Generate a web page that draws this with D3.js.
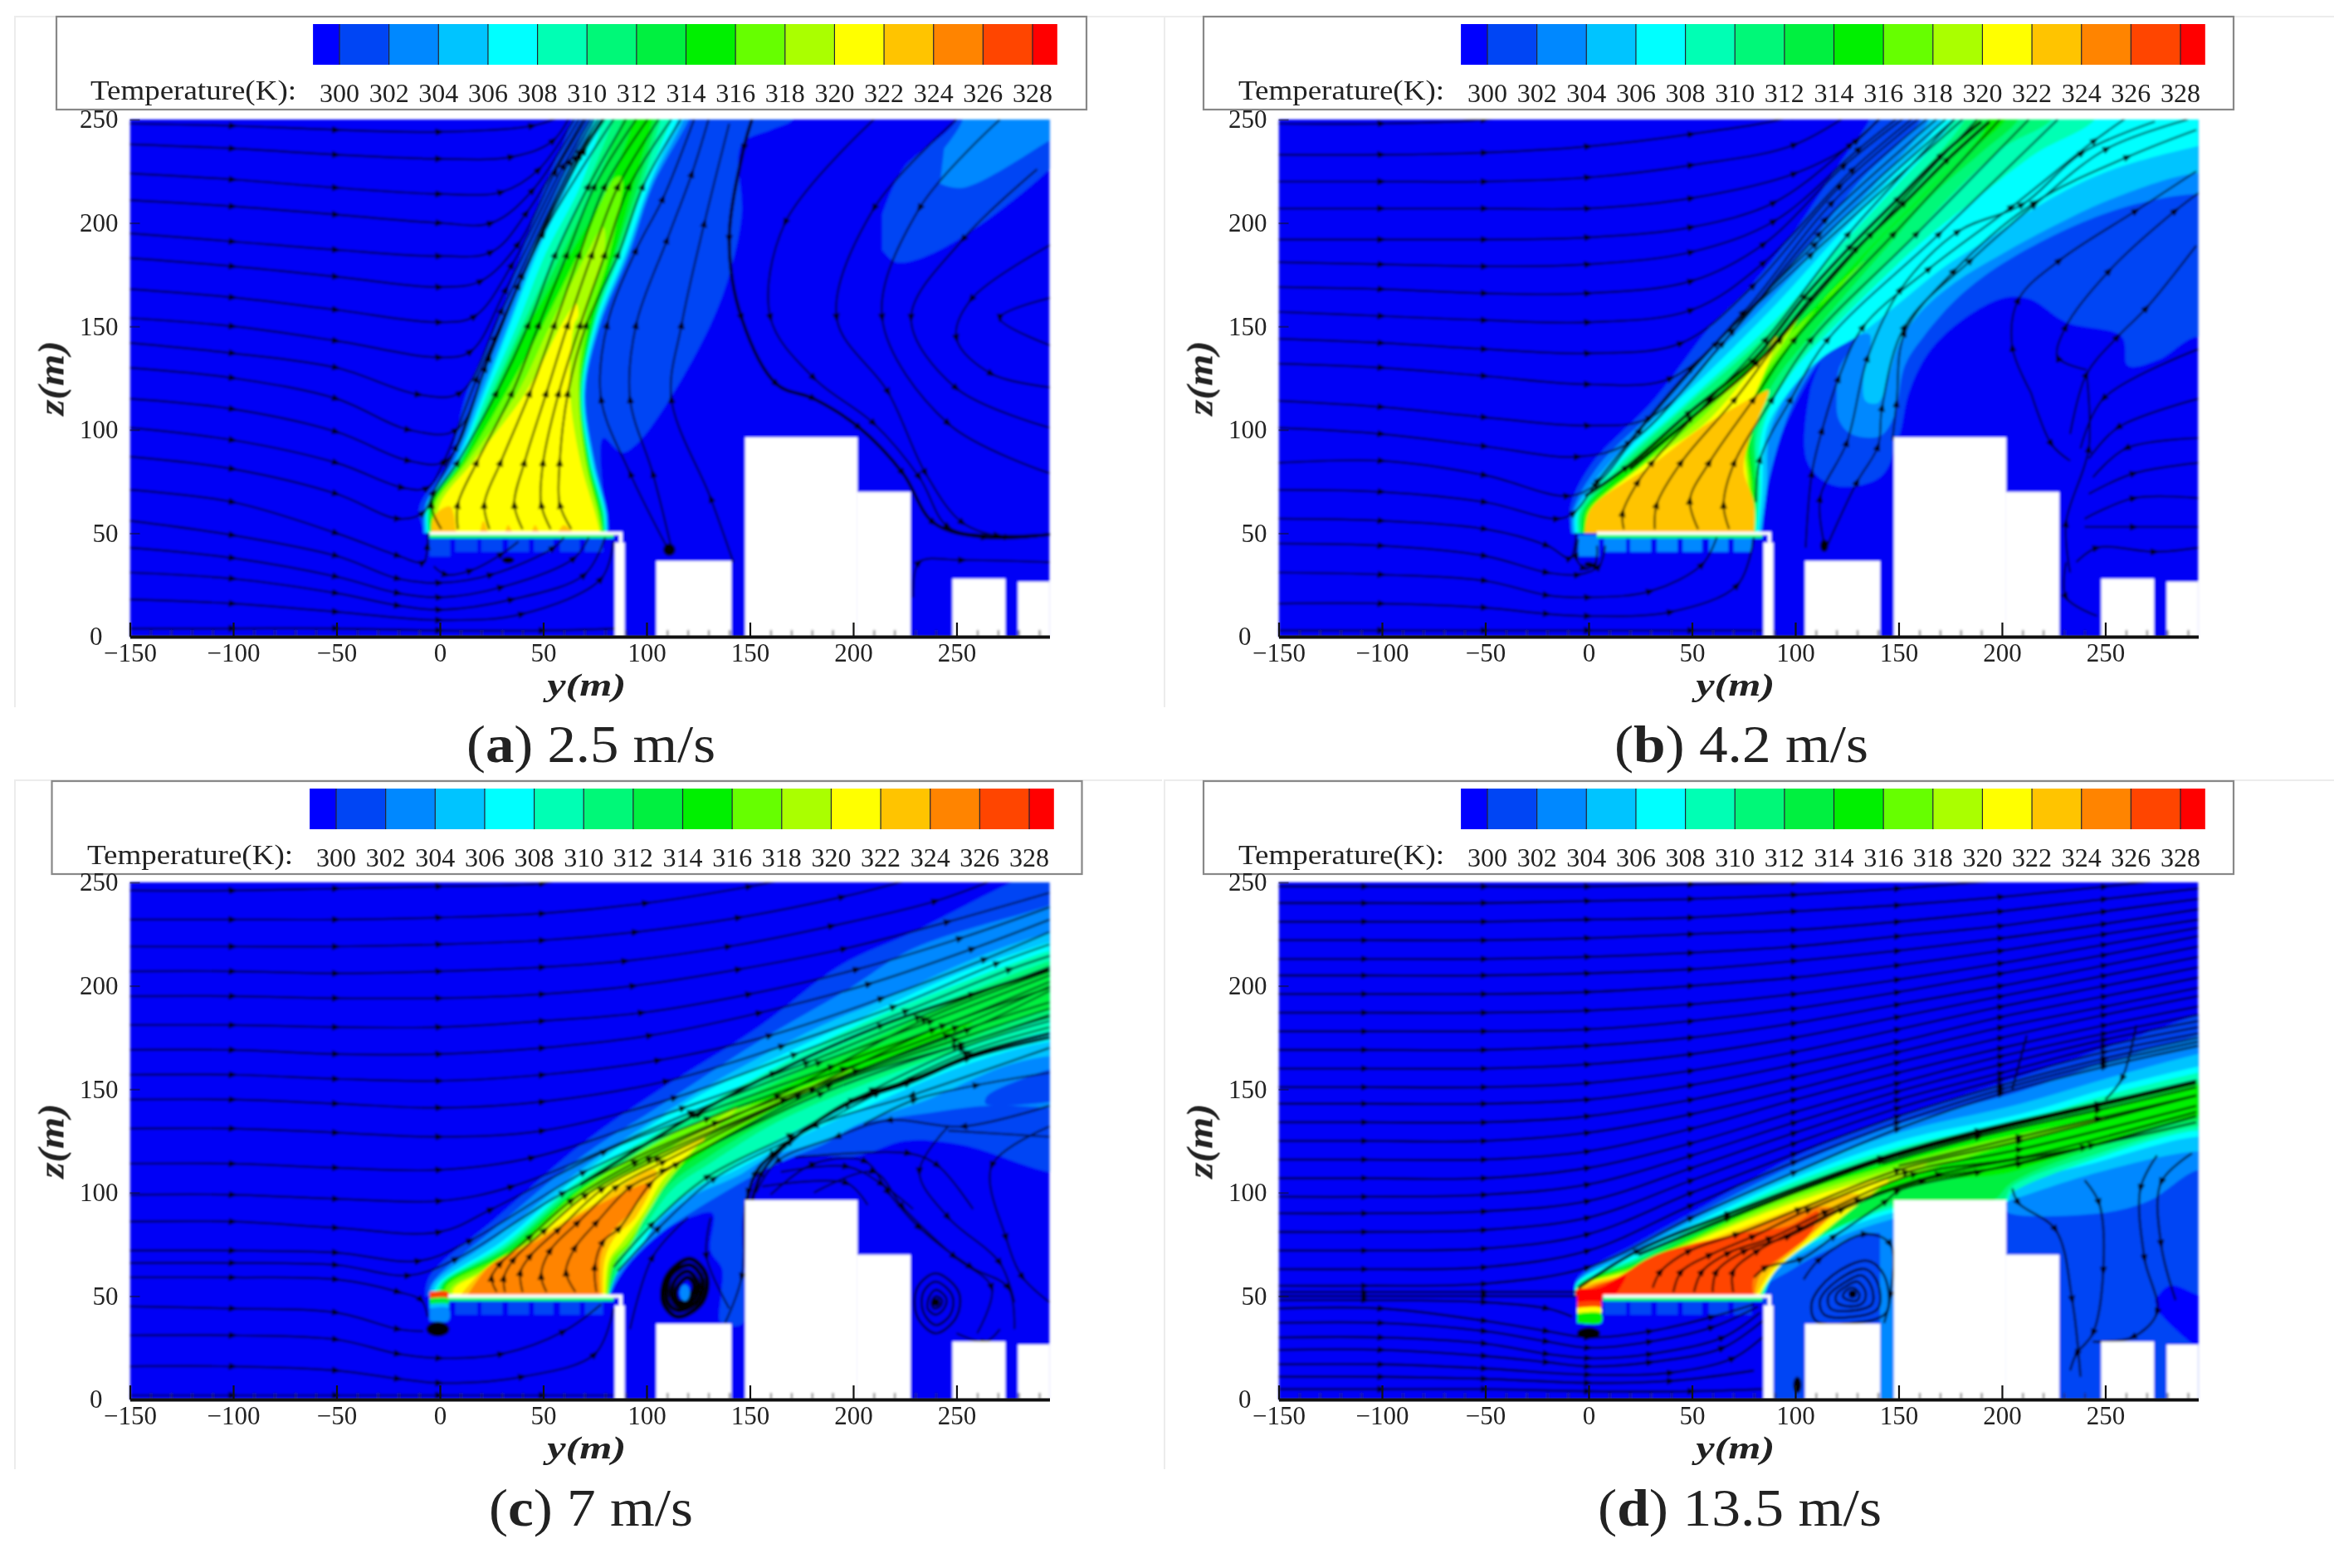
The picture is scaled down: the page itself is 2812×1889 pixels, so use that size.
<!DOCTYPE html>
<html>
<head>
<meta charset="utf-8">
<script src="https://cdn.jsdelivr.net/npm/d3@7"></script>
<style>
  body { margin: 0; background: #fff; }
  text { font-family: "Liberation Serif", serif; fill: #222; }
</style>
</head>
<body>
<script>
// colour legend
const tempTicks = [300, 302, 304, 306, 308, 310, 312, 314, 316, 318, 320, 322, 324, 326, 328];
const tempEdges = [298.93, 300, 302, 304, 306, 308, 310, 312, 314, 316, 318, 320, 322, 324, 326, 328, 329];
const bandColors = ['#0000ff', '#0044f4', '#0088ff', '#00c4ff', '#00ffff', '#00ffb4', '#00f878', '#00f040', '#00f000',
  '#66ff00', '#aaff00', '#ffff00', '#ffc400', '#ff8400', '#ff4400', '#ff0000'];

// axes
const yTicks = [-150, -100, -50, 0, 50, 100, 150, 200, 250];
const yMinorTicks = [-140, -130, -120, -110, -90, -80, -70, -60, -40, -30, -20, -10, 10, 20, 30, 40, 60, 70, 80, 90,
  110, 120, 130, 140, 160, 170, 180, 190, 210, 220, 230, 240, 260, 270, 280, 290];
const zTicks = [0, 50, 100, 150, 200, 250];

// buildings and cooling tower, [y0, z0, y1, z1] in metres
const buildings = [[84.6, 0, 89.4, 45.5], [104.7, 0, 141, 36.6], [147.7, 0, 202, 96.4], [202, 0, 227.7, 70],
  [248, 0, 273.6, 28], [279.7, 0, 300, 26.5]];
const towerCover = [-10, 0, 84.6, 50];
const toothSpans = [[-5, 5, 38.8], [7.4, 18.1, 41], [20.1, 30.2, 41], [33, 43, 41], [45.5, 54.9, 41], [58.2, 67.6, 41], [70.2, 78.9, 41]];

// ---- panel a
const contoursA = [
  {t: 300, pts: [[-6, 48], [-10, 62], [4, 84.5], [13, 118], [27.5, 151], [39.5, 185], [51, 218], [64, 250], [66, 262], [175, 262], [171, 250], [160, 245], [146, 238], [146, 204], [140, 175], [131, 151], [110, 113], [95, 93], [88, 89], [79, 96], [80, 60], [82, 48]]},
  {t: 300, pts: [[214, 187], [221, 181], [242, 187], [295, 226], [310, 245], [310, 262], [250, 262], [250, 250], [224, 226], [214, 204]]},
  {t: 302, pts: [[242, 219], [253, 217], [295, 240], [310, 250], [310, 262], [253, 262], [253, 250], [244, 236]]},
  {t: 302, pts: [[-8, 48], [-7, 64], [6, 84.5], [18, 118], [31, 151], [43.6, 185], [57.6, 218], [72, 250], [76, 262], [125, 262], [120.5, 250], [103, 218], [91.7, 185], [77.7, 151], [70.5, 118], [75, 84.5], [81, 60], [81.5, 48]]},
  {t: 304, pts: [[-7, 48], [-6.5, 64], [7, 84.5], [20, 118], [33, 151], [45.5, 185], [60, 218], [74, 250], [78, 262], [122, 262], [118, 250], [102, 218], [90.7, 185], [77, 151], [70, 118], [74.5, 84.5], [80.5, 60], [81, 48]]},
  {t: 306, pts: [[-6, 48], [-6, 64], [8, 84.5], [21.5, 118], [34, 151], [47, 185], [62, 218], [75, 250], [79, 262], [119, 262], [115, 250], [101, 218], [89.7, 185], [76, 151], [69.5, 118], [73.7, 84.5], [80, 60], [80.5, 48]]},
  {t: 308, pts: [[-5.5, 48], [-5.5, 64], [9, 84.5], [23, 118], [37.5, 151], [51, 185], [68, 218], [79, 250], [83, 262], [116, 262], [112, 250], [99, 218], [87.7, 185], [75, 151], [69, 118], [73, 84.5], [79.5, 60], [80, 48]]},
  {t: 310, pts: [[-5, 48], [-5, 64], [9.5, 84.5], [25, 118], [40, 151], [56, 185], [71, 218], [84, 250], [88, 262], [111, 262], [107, 250], [97.8, 218], [86, 185], [74.5, 151], [68.5, 118], [72.5, 84.5], [79, 60], [80, 48]]},
  {t: 312, pts: [[-4.5, 48], [-4.5, 64], [10, 84.5], [26, 118], [41.5, 151], [59, 185], [75, 218], [88.4, 250], [92, 262], [109, 262], [105, 250], [96, 218], [85, 185], [74, 151], [68, 118], [72, 84.5], [78.5, 60], [79.5, 48]]},
  {t: 314, pts: [[-4, 48], [-4, 64], [10.5, 84.5], [27, 118], [43, 151], [63, 185], [81.7, 218], [93.8, 250], [97, 262], [106, 262], [103, 250], [93.8, 218], [84.4, 185], [73.7, 151], [68, 118], [72, 84.5], [78, 60], [79, 48]]},
  {t: 316, pts: [[-3.5, 48], [-3, 64], [12, 84.5], [32, 118], [50, 151], [67, 185], [85, 222], [88, 222], [82, 185], [72, 151], [67.5, 118], [71, 84.5], [77, 60], [79, 48]]},
  {t: 318, pts: [[-3, 48], [-2, 64], [13.4, 84.5], [37.5, 118], [53.6, 151], [71, 185], [79, 198], [80, 190], [69.7, 151], [67, 118], [70.5, 84.5], [76.5, 60], [78.5, 48]]},
  {t: 320, pts: [[-2, 48], [0, 64], [16, 84.5], [41.5, 118], [59, 151], [66, 161], [67, 155], [65, 151], [63, 118], [68, 84.5], [75, 60], [78, 48]]},
  {t: 322, pts: [[-4, 48], [-3, 58], [5, 63], [8, 48]]},
  {t: 322, pts: [[19, 48], [21, 56], [24, 48]]},
  {t: 322, pts: [[31, 48], [33, 54], [36, 48]]},
  {t: 322, pts: [[44, 48], [46, 54], [49, 48]]},
  {t: 322, pts: [[56, 48], [60, 54], [66, 48]]}
];
const linesA = [
  [[-150, 248], [-100, 247], [-50, 245], [0, 244], [45, 247], [60, 252]],
  [[-150, 238], [-100, 236], [-50, 233], [0, 231], [35, 232], [55, 240], [68, 262]],
  [[-150, 224], [-100, 221], [-50, 217], [0, 214], [30, 215], [48, 226], [72, 262]],
  [[-150, 211], [-100, 208], [-50, 204], [0, 200], [25, 200], [45, 216], [74, 262]],
  [[-150, 195], [-100, 191], [-50, 187], [0, 184], [25, 186], [42, 205], [76, 262]],
  [[-150, 183], [-100, 179], [-50, 174], [0, 169], [20, 172], [38, 190], [56, 225], [78, 262]],
  [[-150, 168], [-100, 164], [-50, 158], [0, 152], [17, 155], [35, 180], [60, 228], [80, 262]],
  [[-150, 154], [-100, 150], [-50, 143], [0, 135], [15, 138], [32, 168], [63, 230], [82, 262]],
  [[-150, 142], [-100, 137], [-50, 130], [-10, 117], [10, 118], [30, 158], [66, 232], [84, 262]],
  [[-150, 130], [-100, 125], [-50, 115], [-15, 100], [8, 100], [27, 145], [68, 233], [86, 262]],
  [[-150, 115], [-100, 110], [-50, 99], [-15, 85], [3, 85], [22, 130], [40, 175], [70, 235], [88, 262]],
  [[-150, 101], [-100, 95], [-50, 84], [-18, 72], [-6, 72], [2, 85], [18, 125], [38, 170], [68, 235], [90, 262]],
  [[-150, 87], [-100, 81], [-50, 69], [-20, 57], [-8, 60], [-3, 70], [8, 92], [24, 135], [50, 195], [92, 262]],
  [[-150, 71], [-100, 65], [-50, 50], [-20, 39], [-8, 36], [-6, 44], [-6, 50]],
  [[-150, 56], [-100, 49], [-50, 39], [-20, 28], [0, 26], [25, 30], [55, 43], [60, 48]],
  [[-150, 43], [-100, 38], [-50, 29], [-20, 21], [0, 19], [30, 24], [65, 38], [72, 48]],
  [[-150, 31], [-100, 28], [-50, 21], [-20, 15], [0, 13], [35, 18], [70, 30], [80, 48]],
  [[-150, 18], [-100, 16], [-50, 12], [0, 8], [40, 11], [78, 28], [84, 46]],
  [[-150, 4], [-100, 4], [-50, 4], [0, 3], [50, 3], [86, 4]],
  [[-3, 34], [3, 30], [15, 32], [30, 40], [38, 46]],
  [[0.7, 52], [-4, 64], [8.7, 84.5], [27.5, 118], [43, 151], [56, 185], [72, 218], [90, 250]],
  [[8.7, 52], [8.7, 64], [18, 84.5], [35, 118], [48, 151], [61.6, 185], [75, 218], [95, 250]],
  [[24, 52], [21.5, 64], [29.5, 84.5], [43.6, 118], [55.6, 151], [67.6, 185], [80, 218], [100.5, 250]],
  [[40, 52], [36, 64], [41, 84.5], [51.6, 118], [62, 151], [73.7, 185], [86.4, 218], [105.8, 250]],
  [[53.6, 52], [49, 64], [50, 84.5], [57.6, 118], [68, 151], [80, 185], [91.7, 218], [112, 250]],
  [[63.6, 52], [58, 64], [58, 84.5], [62, 118], [71, 151], [86.4, 185], [98.4, 218], [116.5, 250]],
  [[110, 43], [92, 79], [78, 115], [81, 151], [95, 187], [108, 212], [123, 250]],
  [[112, 43], [103, 79], [92, 115], [95, 151], [110, 192], [122, 224], [130, 250]],
  [[142, 36], [131, 67], [112, 115], [117, 151], [128, 200], [140, 248]],
  [[210, 250], [167, 200], [160, 154], [181, 125], [210, 103], [232, 77], [246, 53], [270, 49], [300, 50]],
  [[250, 250], [210, 207], [192, 154], [217, 118], [235, 79], [253, 55], [275, 48], [300, 50]],
  [[271, 250], [232, 207], [214, 154], [246, 103], [295, 79]],
  [[289, 226], [253, 192], [228, 154], [250, 120], [295, 101]],
  [[300, 192], [257, 163], [250, 144], [267, 127], [300, 120]],
  [[300, 165], [271, 154], [300, 139]],
  [[229, 19], [232, 36], [253, 37], [295, 36]]
];
const thickA = [[[151, 250], [147, 236], [140, 192], [146, 154], [163, 122], [181, 115], [203, 101], [224, 79], [239, 55], [264, 48], [300, 50]]];
const blobsA = [[111, 42, 3, 3], [33, 37, 3, 1.6]];

// ---- panel b
const contoursB = [
  {t: 300, pts: [[-8, 48], [-9, 62], [1, 83], [32, 115], [59, 150], [78, 169], [101, 198], [121, 228], [136, 250], [140, 262], [310, 262], [310, 142], [294, 145], [276, 134], [261, 131], [258, 145], [231, 152], [214, 163], [202, 164], [182, 154], [165, 138], [155, 118], [150, 96], [141, 77], [119, 73], [106, 84], [107, 118], [112, 133], [90, 90], [84, 60], [83, 48]]},
  {t: 302, pts: [[-8, 48], [-8, 60], [5, 83], [38, 115], [55, 134], [84, 165], [110, 194], [131, 220], [161, 250], [165, 262], [310, 262], [310, 212], [294, 214], [254, 206], [208, 185], [181, 166], [162, 145], [153, 131], [148, 107], [141, 97], [127, 98], [121, 105], [120, 118], [121, 129], [130, 146], [118, 140], [100, 115], [86, 70], [84, 48]]},
  {t: 304, pts: [[-7, 48], [-7, 60], [9, 83], [41, 115], [55, 130], [87, 162], [115, 193], [138, 218], [165, 250], [169, 262], [310, 262], [310, 222], [294, 224], [254, 212], [224, 198], [200, 185], [177, 171], [159, 155], [150, 141], [145, 125], [140, 113], [134, 114], [133, 125], [136, 138], [136, 146], [131, 146], [113, 135], [99, 121], [88, 100], [86, 70], [83, 48]]},
  {t: 306, pts: [[-6, 48], [-6, 60], [12, 83], [44, 115], [55, 125], [91, 161], [119, 192], [142, 217], [171, 250], [175, 262], [310, 262], [310, 240], [294, 237], [254, 226], [224, 212], [193, 192], [171, 178], [150, 161], [131, 146], [113, 135], [99, 121], [88, 105], [85, 94], [84, 70], [82, 48]]},
  {t: 308, pts: [[-5, 48], [-5, 60], [14, 83], [47, 113], [95, 158], [122, 189], [147, 216], [177, 250], [181, 262], [250, 262], [245, 250], [217, 234], [193, 216], [165, 194], [141, 172], [119, 150], [101, 131], [88, 111], [83, 94], [83, 70], [81, 48]]},
  {t: 310, pts: [[-4, 48], [-4, 60], [16, 83], [49, 113], [98, 157], [125, 188], [151, 214], [182, 250], [186, 262], [228, 262], [224, 250], [200, 236], [174, 212], [153, 189], [131, 166], [111, 145], [95, 125], [84, 105], [81, 94], [82, 70], [80, 48]]},
  {t: 312, pts: [[-3, 48], [-3, 60], [18, 83], [51, 111], [101, 155], [128, 186], [156, 214], [187, 250], [191, 262], [212, 262], [208, 250], [190, 234], [165, 212], [145, 189], [124, 165], [107, 145], [91, 125], [81, 105], [80, 94], [81, 70], [79, 48]]},
  {t: 314, pts: [[-2, 48], [-2, 60], [20, 83], [54, 110], [73, 127], [105, 155], [134, 186], [165, 217], [191, 244], [197, 262], [206, 262], [202, 250], [181, 232], [158, 209], [137, 188], [119, 165], [102, 145], [88, 125], [79, 105], [78, 94], [80, 70], [78, 48]]},
  {t: 316, pts: [[-1, 48], [-1, 60], [25, 83], [55, 109], [78, 130], [101, 150], [121, 169], [134, 182], [116, 165], [98, 143], [85, 125], [78, 106], [77, 91], [79, 70], [77, 48]]},
  {t: 318, pts: [[0, 48], [0, 60], [26.5, 83], [55, 106], [73, 125], [91, 143], [102, 155], [95, 143], [82, 123], [76, 106], [76, 91], [78, 70], [76, 48]]},
  {t: 320, pts: [[1, 48], [1, 60], [28, 84], [55, 102], [70, 118], [85, 137], [91, 145], [88, 135], [81, 118], [75, 103], [75, 91], [77, 72], [76, 48]]},
  {t: 322, pts: [[-2, 48], [1, 61.7], [30.5, 83], [56, 102], [84, 118], [87, 119], [77.4, 94], [75, 80.5], [80, 64.4], [80, 48]]}
];
const linesB = [
  [[-150, 248], [-100, 248], [-50, 250], [-10, 256]],
  [[-150, 233], [-100, 233], [-50, 234], [0, 237], [50, 243], [100, 252], [120, 262]],
  [[-150, 220], [-100, 220], [-50, 220], [0, 222], [50, 228], [100, 238], [140, 262]],
  [[-150, 207], [-100, 207], [-50, 207], [0, 207], [50, 212], [100, 224], [130, 240], [150, 262]],
  [[-150, 192], [-100, 192], [-50, 192], [0, 193], [50, 198], [90, 210], [127, 238], [160, 268]],
  [[-150, 181], [-100, 180], [-50, 179], [0, 180], [50, 186], [90, 201], [131, 236], [168, 265]],
  [[-150, 169], [-100, 168], [-50, 166], [0, 166], [50, 172], [85, 190], [124, 228], [172, 265]],
  [[-150, 157], [-100, 155], [-50, 153], [0, 152], [50, 158], [85, 181], [128, 226], [175, 265]],
  [[-150, 144], [-100, 142], [-50, 139], [0, 137], [45, 142], [80, 170], [122, 218], [178, 265]],
  [[-150, 132], [-100, 130], [-50, 126], [0, 122], [40, 125], [75, 157], [118, 210], [182, 265]],
  [[-150, 114], [-100, 111], [-50, 106], [0, 102], [30, 106], [70, 148], [115, 202], [186, 265]],
  [[-150, 101], [-100, 98], [-50, 92], [-5, 87], [20, 94], [65, 142], [112, 195], [190, 265]],
  [[-150, 84], [-100, 85], [-50, 78], [-10, 68], [4, 74], [25, 100], [62, 142], [110, 190], [194, 265]],
  [[-150, 71], [-100, 70], [-50, 65], [-15, 57], [-7, 60], [5, 76], [50, 130], [108, 185], [198, 265]],
  [[-150, 57], [-100, 56], [-50, 52], [-20, 44], [-9, 38], [-6, 50]],
  [[-150, 45], [-100, 44], [-50, 39], [-20, 31], [-5, 30], [5, 34], [8, 44]],
  [[-150, 31], [-100, 30], [-50, 27], [-20, 20], [0, 19], [30, 22], [55, 35], [62, 48]],
  [[-150, 16], [-100, 16], [-50, 14], [-20, 11], [0, 10], [40, 12], [72, 25], [80, 48]],
  [[-150, 3], [-100, 3], [-50, 3], [0, 3], [50, 3], [84, 3]],
  [[-5, 47], [-6, 38], [-2, 33], [3, 35], [4, 44]],
  [[17, 52], [16.5, 60], [24, 75], [31, 84.5], [59, 115], [86, 144], [126, 195], [177, 250]],
  [[32, 52], [33, 64], [45, 84.5], [71, 115], [93, 144], [137, 195], [188, 250]],
  [[53, 52], [49, 66], [58.6, 84.5], [80, 115], [100, 144], [148, 195], [199, 250]],
  [[68, 52], [65.3, 64], [70.7, 84.5], [89, 115], [108, 144], [159, 195], [213, 250]],
  [[81, 65], [83, 86], [98, 115], [116, 144], [170, 195], [227, 250]],
  [[114, 45], [112, 67], [125, 94], [135, 135], [151, 168], [179, 196], [210, 209], [239, 234], [274, 249]],
  [[115, 43], [130, 75], [140, 92], [142, 111], [153, 150], [185, 182], [216, 209], [251, 236], [290, 250]],
  [[147, 95], [149, 113], [153, 147], [177, 177], [216, 210], [261, 232], [294, 245]],
  [[105, 43], [108, 79], [113, 100], [121, 125], [133, 150], [165, 178], [205, 208], [245, 240], [262, 252]],
  [[214, 118], [205, 140], [208, 163], [228, 182], [265, 206], [294, 225]],
  [[241, 129], [227, 135], [231, 150], [252, 177], [284, 206], [300, 218]],
  [[233, 98], [241, 127], [256, 145], [270, 159], [294, 189]],
  [[233, 31], [231, 55], [242, 91], [241, 127]],
  [[214, 118], [224, 93], [233, 85]],
  [[242, 69], [264, 79], [295, 84]],
  [[240, 57], [264, 67], [295, 67]],
  [[240, 53], [264, 53], [295, 53]],
  [[236, 36], [246, 43], [274, 41], [295, 43]],
  [[231, 36], [231, 19], [246, 10]],
  [[295, 139], [249, 115], [238, 91]],
  [[295, 115], [256, 101], [242, 86]],
  [[295, 96], [260, 91], [244, 77]]
];
const thickB = [
  [[-1.6, 68], [18.5, 82], [49, 108.6], [80, 134], [105, 165], [127, 189], [150, 212], [171, 233], [190, 249]],
  [[20, 81], [50, 106], [82, 133], [108, 164], [130, 188], [153, 210], [174, 231], [194, 249]]
];
const blobsB = [[114, 44, 2, 3], [0, 35, 2, 1.2]];

// ---- panel c
const contoursC = [
  {t: 300, pts: [[-7, 48], [-5.3, 59], [28, 88.5], [68, 123], [102, 147], [154, 180], [194, 210], [229, 226], [277, 250], [310, 262], [310, 110], [295, 110], [253, 123], [225, 125], [203, 118], [160, 115], [147, 90], [147, 37], [136, 37], [136, 50], [136.6, 63], [131, 72], [132, 90], [122, 88.5], [102, 78], [90, 64], [84, 55], [82, 48]]},
  {t: 302, pts: [[-6, 48], [-4, 56], [28, 84], [68, 117], [108, 143], [154, 173], [197, 198], [229, 218], [295, 239], [310, 245], [310, 140], [295, 141], [265, 142], [233, 138], [204, 133], [185, 123], [170, 117], [155, 110], [129, 95], [105, 79], [90, 64], [83, 52], [82, 48]]},
  {t: 300, pts: [[296, 160], [265, 147], [264, 143], [296, 144]]},
  {t: 304, pts: [[-5, 48], [-3, 56], [28, 79], [68, 111], [97, 131], [122, 147], [141, 158], [185, 181], [214, 193], [258, 213], [295, 226], [310, 230], [310, 166], [295, 166], [273, 161], [236, 145], [207, 135], [185, 125], [159, 117], [144, 108], [122, 98], [103, 83], [92, 68], [84, 58], [82, 48]]},
  {t: 306, pts: [[-4, 48], [-1, 56], [29.5, 76], [68, 108.5], [122, 145], [156, 162], [207, 186], [251, 206], [295, 221], [310, 225], [310, 173], [295, 173], [258, 163], [214, 145], [170, 125], [141, 110], [122, 102], [106, 87], [95, 71], [86, 62], [81, 48]]},
  {t: 308, pts: [[-3, 48], [0, 56], [31, 75], [68, 106.5], [112, 133], [159, 159], [200, 180], [251, 201], [295, 217], [310, 221], [310, 178], [295, 178], [258, 167], [214, 149], [170, 129], [138, 111], [118, 98], [104, 85], [93, 72], [85, 60], [81, 48]]},
  {t: 310, pts: [[-1, 48], [1.4, 56], [32, 74], [68, 105], [112, 130], [159, 155], [207, 177], [258, 198], [295, 212], [310, 216], [310, 184], [295, 184], [251, 169], [207, 153], [163, 134], [132, 115], [113, 102], [100, 85], [92, 74], [85, 60], [81, 48]]},
  {t: 312, pts: [[0, 48], [1.4, 56], [32, 73], [68, 103], [112, 127], [162, 153], [207, 173], [258, 196], [295, 208], [310, 212], [310, 188], [295, 188], [251, 173], [207, 158], [163, 137], [131, 118], [110, 103], [97, 85], [85, 65], [81, 48]]},
  {t: 314, pts: [[1, 48], [2.4, 56], [33, 72], [68, 102], [116, 125], [162, 149], [207, 169], [258, 182], [207, 161], [163, 141], [130, 121], [109, 105], [95, 83], [84, 65], [81, 48]]},
  {t: 316, pts: [[2, 48], [3.4, 55], [33.5, 71], [68, 101], [122, 133], [162, 146], [200, 160], [162, 141], [127, 121], [108, 106], [93, 76], [84, 65], [81, 48]]},
  {t: 318, pts: [[4, 48], [5.4, 54], [35, 69.7], [68, 98.5], [97, 113], [127, 131], [144, 141], [127, 125], [108.5, 103], [102, 92.5], [91, 76], [83, 67], [81, 48]]},
  {t: 320, pts: [[6, 48], [7, 53.7], [36, 68.4], [68, 96.5], [108.5, 116.6], [128.6, 127], [108.5, 107], [99, 91], [88.4, 76.4], [81.7, 67], [80, 48]]},
  {t: 322, pts: [[8, 48], [21.5, 63], [41.5, 75], [71, 92.5], [104.5, 111], [95, 88.5], [84.4, 78], [79.7, 67], [79, 48]]},
  {t: 324, pts: [[12, 48], [24, 64.4], [44, 75], [73.7, 92.5], [102, 104.5], [92.4, 91], [81.7, 79], [77.7, 68.4], [77.7, 48]]}
];
const wallPiecesC = [
  {t: 326, pts: [[-5, 52], [4, 52], [4, 49], [-5, 49]]},
  {t: 312, pts: [[-5, 49], [4, 49], [4, 46], [-5, 46]]},
  {t: 304, pts: [[-5, 46], [4, 46], [4, 44], [-5, 44]]},
  {t: 302, pts: [[-5, 44], [4, 44], [4, 38], [-5, 38]]}
];
const linesC = [
  [[-150, 246], [-100, 246], [-50, 247], [0, 248], [50, 249.5], [60, 252]],
  [[-150, 232], [-100, 232], [-50, 232], [0, 233], [50, 235], [100, 240], [150, 248], [170, 252]],
  [[-150, 219], [-100, 219], [-50, 219], [0, 220], [50, 222], [95, 226], [145, 233], [195, 243], [230, 252]],
  [[-150, 207], [-100, 207], [-50, 206], [0, 207], [50, 209], [90, 212], [140, 219], [190, 229], [240, 241], [270, 252]],
  [[-150, 195], [-100, 195], [-50, 194], [0, 194], [50, 196], [94, 200], [145, 208], [196, 218], [246, 231], [295, 245]],
  [[-150, 181], [-100, 181], [-50, 180], [0, 180], [50, 183], [98, 187], [150, 196], [202, 208], [252, 223], [295, 238]],
  [[-150, 169], [-100, 169], [-50, 167], [0, 167], [50, 170], [102, 176], [155, 187], [208, 201], [258, 218], [295, 232]],
  [[-150, 157], [-100, 157], [-50, 155], [0, 154], [50, 157], [106, 164], [160, 176], [214, 194], [264, 213], [295, 226]],
  [[-150, 145], [-100, 145], [-50, 143], [0, 141], [50, 144], [110, 154], [166, 171], [220, 190], [270, 211], [295, 220]],
  [[-150, 131], [-100, 131], [-50, 129], [0, 127], [50, 130], [114, 146], [172, 167], [226, 188], [276, 208], [300, 216]],
  [[-150, 114], [-100, 114], [-50, 112], [0, 111], [45, 117], [118, 141], [178, 163], [232, 185], [300, 211]],
  [[-150, 99], [-100, 99], [-50, 97], [0, 96], [35, 103], [122, 139], [184, 163], [238, 183], [300, 207]],
  [[-150, 86], [-100, 86], [-50, 83], [0, 81], [25, 92], [80, 120], [126, 138], [190, 161], [244, 181], [300, 204]],
  [[-150, 72], [-100, 72], [-50, 71], [-10, 67], [15, 77], [70, 110], [130, 136], [196, 160], [250, 180], [300, 202]],
  [[-150, 66], [-100, 66], [-50, 65], [-15, 60], [8, 68], [60, 100], [134, 134], [202, 159], [256, 179], [300, 200]],
  [[-150, 59], [-100, 59], [-50, 58], [-20, 52], [-9, 48], [-6, 40]],
  [[-150, 45], [-100, 44], [-50, 42], [-20, 34], [-8, 33]],
  [[-150, 31], [-100, 31], [-50, 29], [-20, 22], [0, 20], [30, 22], [60, 33], [78, 46]],
  [[-150, 16], [-100, 16], [-50, 14], [-20, 10], [0, 8], [40, 11], [75, 22], [84, 44]],
  [[-150, 2], [-100, 2], [-50, 2], [0, 2], [50, 2], [84, 2]],
  [[27.5, 52], [25, 59], [29.5, 66], [44, 79], [64, 96.5], [95, 115], [164, 147], [235, 184], [295, 207]],
  [[31.5, 52], [31, 59], [36, 68], [51, 82], [71, 99], [102, 116.6], [167, 145], [239, 179], [295, 199]],
  [[40, 52], [39, 61.7], [44, 69.7], [57.6, 82.4], [79, 102], [106, 116.6], [174, 147], [246, 176], [295, 192]],
  [[51.6, 52], [49, 60], [53.6, 72.4], [67, 85.8], [85.7, 103], [108.5, 115], [181, 150], [250, 174], [295, 189]],
  [[65.6, 52], [61, 61.7], [65.6, 73.7], [76, 85.8], [92.4, 103], [108.5, 111], [189, 152], [253, 172], [295, 186]],
  [[75.7, 52], [75, 64.4], [79, 76.4], [87, 83], [102, 104.5], [115, 114], [185, 148], [250, 171], [295, 185]],
  [[84, 64], [103, 85], [130, 108], [170, 128], [210, 150], [253, 170], [295, 183]],
  [[86, 62], [106, 83], [133, 107], [172, 127], [212, 148], [255, 168], [295, 180]],
  [[295, 170], [228, 147], [181, 132], [160, 118], [149, 100], [146, 59], [138, 37]],
  [[295, 142], [253, 132], [217, 135], [192, 127], [163, 115], [153, 100]],
  [[160, 99], [181, 114], [206, 115], [217, 100], [232, 83], [257, 64], [275, 54], [278, 34]],
  [[181, 100], [210, 110], [224, 93], [249, 69], [267, 54], [260, 32]],
  [[246, 132], [232, 110], [246, 88], [271, 66], [278, 47]],
  [[295, 132], [267, 113], [274, 78], [282, 59], [295, 47]],
  [[246, 130], [295, 127]],
  [[131, 88], [129, 69], [140, 44]],
  [[92, 34], [103, 69], [120, 88]],
  [[250, 32], [264, 28], [271, 34]],
  [[165, 110], [197, 112.6], [214, 104], [229, 92]],
  [[156, 103], [197, 104.5], [207, 94]],
  [[172, 117], [227, 119], [241, 113], [258, 92]],
  [[205, 133], [230, 145], [260, 152], [295, 158]]
];
const thickC = [
  [[150, 92], [156, 110], [170, 125], [200, 145], [229, 155], [258, 167], [295, 177]],
  [[148, 92], [153, 110], [168, 124], [198, 143], [227, 153], [256, 165], [295, 175]],
  [[68, 104], [124, 138], [162, 158], [214, 181], [258, 196], [295, 208]]
];
const vorticesC = [
  [[121, 68], [129, 60], [127, 47], [115, 40], [108, 47], [110, 60]],
  [[121, 65], [127, 58], [125, 48], [115, 43], [110, 48], [112, 60]],
  [[120, 62], [125, 56], [123, 49], [116, 45], [112, 50], [114, 58]],
  [[120, 59], [123, 55], [121, 50], [116, 47], [114, 51], [116, 56]]
];
const ringsC = [
  [[240, 61], [251, 52], [250, 40], [240, 32], [231, 40], [231, 54]],
  [[240, 57], [248, 50], [247, 41], [240, 36], [234, 42], [234, 52]],
  [[240, 53], [245, 49], [244, 44], [240, 41], [236, 44], [237, 50]],
  [[240, 50], [243, 48], [242, 45], [239, 44], [238, 47]]
];
const blobsC = [[-1, 34, 5.6, 3.6], [240, 47, 2, 2]];
const eyesC = [[118.5, 51.6, 2.4, 4]];

// ---- panel d
const contoursD = [
  {t: 300, pts: [[-6, 48], [-6, 58], [24, 76], [53, 92], [99, 117], [150, 137], [209, 156], [250, 170], [295, 186], [310, 190], [310, -5], [84, -5], [84, 48]]},
  {t: 299, pts: [[274, 48], [281, 55], [296, 50], [310, 45], [310, 22], [294, 26], [286, 32], [275, 43]]},
  {t: 302, pts: [[141, -5], [148, -5], [148, 90], [141, 84]]},
  {t: 302, pts: [[-6, 48], [-6, 57], [24, 75], [53, 90], [99, 113], [150, 133], [209, 149], [250, 163], [295, 176], [310, 180], [310, 109], [295, 111], [271, 96], [247, 90], [202, 91], [202, 96], [149, 96], [147, 82], [134, 80], [111, 70], [97, 62], [86, 55], [84, 48]]},
  {t: 304, pts: [[-6, 48], [-6, 56], [24, 73], [53, 88], [99, 110], [150, 129], [209, 143], [250, 155], [295, 167], [310, 170], [310, 118], [295, 120], [247, 110], [206, 97], [203, 96], [146, 87], [100, 69], [90, 61], [84, 48]]},
  {t: 306, pts: [[-6, 48], [-6, 56], [24, 71], [53, 86], [99, 107], [150, 125], [209, 138], [250, 150], [295, 161], [310, 164], [310, 125], [295, 127], [247, 115], [204, 102], [203, 96], [146, 90], [100, 71], [90, 62], [84, 48]]},
  {t: 308, pts: [[-6, 48], [-6, 55], [24, 69], [53, 84], [99, 105], [150, 122], [209, 135], [250, 147], [295, 158], [310, 161], [310, 128], [295, 130], [247, 117], [205, 100], [202, 96], [146, 92], [103, 73], [90, 63], [84, 48]]},
  {t: 310, pts: [[-5, 48], [-5, 55], [24, 68], [53, 83], [99, 103], [142, 118], [189, 131], [250, 145], [295, 155], [310, 158], [310, 130], [295, 132], [247, 119], [205, 103], [200, 96], [148, 94], [105, 75], [90, 65], [83, 48]]},
  {t: 312, pts: [[-5, 48], [-5, 55], [24, 67], [53, 82], [99, 101], [142, 116], [189, 129], [250, 143], [295, 153], [310, 156], [310, 133], [295, 135], [247, 122], [205, 105], [195, 96], [148, 96], [140, 92], [108, 77], [92, 66], [84, 60], [83, 48]]},
  {t: 314, pts: [[-5, 48], [-5, 55], [24, 66], [53, 80], [99, 100], [142, 114], [189, 127], [250, 141], [295, 152], [310, 155], [310, 136], [295, 137], [247, 124], [201, 109], [170, 106], [150, 101], [133, 97], [111, 85], [92, 68], [85, 62], [83, 48]]},
  {t: 316, pts: [[-5, 48], [-5, 54], [24, 65], [53, 79], [99, 99], [142, 112], [189, 124], [250, 136], [189, 119], [155, 108], [142, 103], [125, 94], [105, 76], [90, 64], [82, 48]]},
  {t: 318, pts: [[-5, 48], [-5, 54], [24, 64], [53, 78], [99, 97], [135, 108], [165, 115], [142, 103], [120, 91], [103, 74], [90, 63], [82, 48]]},
  {t: 320, pts: [[-5, 48], [-5, 54], [24, 63], [53, 77], [99, 95], [133, 105], [145, 106], [135, 98], [111, 79], [92, 64], [81, 48]]},
  {t: 322, pts: [[-3, 48], [-3, 54], [24, 62], [53, 75], [85, 87], [111, 96], [131, 99], [115, 86], [100, 72], [88, 62], [80, 48]]},
  {t: 324, pts: [[-2, 48], [-2, 53], [24, 61], [53, 74], [85, 85], [111, 93], [119, 92], [105, 78], [92, 67], [83, 60], [80, 48]]},
  {t: 326, pts: [[-1, 48], [-1, 52], [14, 59], [33, 70], [72, 80], [97, 84], [111, 91], [107, 80], [92, 68], [80, 59], [80, 48]]},
  {t: 328, pts: [[-6, 49], [-6, 53], [5, 54], [18, 60], [12, 49]]}
];
const wallPiecesD = [
  {t: 328, pts: [[-5.6, 52.3], [6, 52.3], [6, 47], [-5.6, 47]]},
  {t: 326, pts: [[-5.6, 47], [6, 47], [6, 44.3], [-5.6, 44.3]]},
  {t: 320, pts: [[-5.6, 44.3], [6, 44.3], [6, 41.6], [-5.6, 41.6]]},
  {t: 314, pts: [[-5.6, 41.6], [6, 41.6], [6, 37], [-5.6, 37]]}
];
// z of the nearly parallel far-field lines, read where they cross streamStationsD
const streamStationsD = [-150, -108, -50, 0, 50, 100, 150, 200, 250, 295];
const streamZD = [
  [248, 248, 248, 248, 249, 250, 252],
  [240, 240, 240, 241, 242, 244, 247, 251],
  [231, 231, 231, 232, 233, 236, 239, 243, 248, 253],
  [222, 222, 222, 223, 225, 227, 231, 236, 242, 247],
  [213, 213, 213, 214, 216, 219, 224, 229, 236, 242],
  [205, 205, 205, 206, 208, 212, 217, 223, 230, 237],
  [196, 196, 196, 197, 200, 204, 210, 217, 225, 232],
  [187, 187, 187, 188, 191, 196, 203, 211, 220, 228],
  [178, 178, 178, 179, 183, 189, 197, 206, 215, 224],
  [169, 169, 169, 171, 175, 182, 191, 200, 210, 219],
  [160, 160, 160, 162, 167, 175, 185, 195, 205, 214],
  [151, 151, 151, 153, 159, 168, 179, 190, 200, 209],
  [143, 143, 143, 145, 152, 162, 173, 185, 195, 204],
  [134, 134, 134, 137, 145, 156, 168, 180, 190, 199],
  [125, 125, 125, 129, 138, 150, 163, 175, 186, 195],
  [116, 116, 116, 120, 131, 145, 158, 170, 181, 190],
  [107, 107, 107, 112, 124, 139, 153, 166, 177, 186],
  [98, 98, 99, 104, 118, 134, 149, 162, 174, 183],
  [90, 90, 91, 96, 112, 129, 145, 158, 171, 180],
  [81, 81, 82, 88, 106, 124, 141, 155, 168, 177],
  [72, 72, 73, 80, 100, 119, 137, 152, 165, 175],
  [63, 63, 64, 72, 94, 115, 134, 150, 163, 173],
  [55, 55, 56, 64, 88, 110, 131, 148, 161, 171]
];
const linesD = [
  [[-150, 52], [-108, 52], [-50, 52], [-6, 52]],
  [[-150, 50], [-108, 50], [-50, 50], [-6, 50]],
  [[-150, 48], [-108, 48], [-50, 47], [-20, 44], [-8, 40]],
  [[-150, 44], [-100, 44], [-50, 38], [-20, 33], [0, 30], [30, 33], [60, 40], [80, 46]],
  [[-150, 37], [-100, 37], [-50, 33], [-20, 28], [0, 25], [30, 28], [60, 35], [82, 45]],
  [[-150, 30], [-100, 30], [-50, 27], [-20, 22], [0, 20], [30, 22], [65, 30], [83, 42]],
  [[-150, 24], [-100, 24], [-50, 21], [-20, 18], [0, 16], [30, 18], [65, 25], [84, 38]],
  [[-150, 17], [-100, 17], [-50, 15], [0, 12], [40, 13], [70, 20], [84, 30]],
  [[-150, 11], [-100, 11], [-50, 10], [0, 8], [40, 9], [80, 14]],
  [[-150, 5], [-100, 5], [-50, 5], [0, 4], [50, 4], [84, 5]],
  [[31, 54], [35, 62], [49, 72], [72, 80], [102, 92], [150, 111], [209, 125], [294, 147]],
  [[41, 52], [45, 62], [59, 70], [80, 79], [107, 92], [154, 110], [209, 121], [294, 142]],
  [[51, 52], [55, 62], [68, 71], [88, 78], [115, 91], [158, 109], [209, 117], [294, 139]],
  [[60, 52], [62, 62], [76, 72], [97, 79], [123, 92], [162, 106], [209, 114], [294, 137]],
  [[70, 52], [70, 62], [82, 72], [103, 83], [131, 96.5], [170, 109], [240, 122], [294, 134]],
  [[80, 59], [86, 64], [103, 68], [119, 79], [144, 96], [150, 101], [189, 110], [244, 123], [294, 137]],
  [[142, 114], [189, 127], [247, 140], [294, 151]],
  [[150, 113], [209, 127], [247, 136], [294, 147]],
  [[104, 58], [112, 68], [134, 80], [146, 75], [146, 50], [143, 37]],
  [[205, 102], [208, 95], [226, 82], [234, 48], [238, 11]],
  [[240, 106], [247, 95], [249, 62], [244, 32], [236, 22], [233, 14]],
  [[275, 118], [267, 102], [269, 68], [275, 42], [263, 30], [244, 28]],
  [[292, 119], [277, 105], [277, 75], [284, 48]],
  [[265, 181], [258, 155], [250, 145]],
  [[212, 176], [205, 150]]
];
const thickD = [
  [[-5, 54], [24, 72], [68, 90], [142, 117], [189, 130], [247, 143], [294, 154]],
  [[24, 70], [68, 88], [142, 115.5], [189, 128.5], [247, 142], [294, 153]]
];
const vorticesD = [
  [[135, 67], [143, 60], [144, 42], [128, 37], [110, 38], [108, 47], [118, 60]],
  [[134, 63], [140, 56], [140, 44], [128, 40], [114, 41], [112, 48], [121, 58]],
  [[132, 60], [137, 54], [137, 46], [128, 43], [117, 44], [116, 50], [123, 56]],
  [[130, 57], [134, 52], [133, 47], [127, 45], [120, 47], [120, 51], [125, 55]],
  [[128, 54], [131, 51], [130, 48], [126, 48], [123, 50], [125, 53]]
];
const blobsD = [[127.7, 51, 2, 2], [0, 32, 5.6, 2.8], [101, 7, 2, 4]];

// layout of the four sub-figures, in page pixels
const panels = [
  {letter: 'a', speed: '2.5 m/s', left: 156.5, top: 144, legendLeft: 68, legendTop: 20, frame: [18, 20, 1410, 852],
    barLeft: 377, titleLeft: 109, capX: 712, capY: 918, capW: 300, yTitleY: 838, deckStart: -5, toothT: 300,
    contours: contoursA, walls: [], lines: linesA, thick: thickA, vortices: [], rings: [], blobs: blobsA, eyes: [], lineWidth: 2.2},
  {letter: 'b', speed: '4.2 m/s', left: 1540.5, top: 144, legendLeft: 1450, legendTop: 20, frame: [1403, 20, 2812, 852],
    barLeft: 1760, titleLeft: 1492, capX: 2098, capY: 918, capW: 306, yTitleY: 838, deckStart: 4, toothT: 302,
    contours: contoursB, walls: [], lines: linesB, thick: thickB, vortices: [], rings: [], blobs: blobsB, eyes: [], lineWidth: 2.2},
  {letter: 'c', speed: '7 m/s', left: 156.5, top: 1063, legendLeft: 62.5, legendTop: 941, frame: [18, 940, 1400, 1770],
    barLeft: 373, titleLeft: 105, capX: 712, capY: 1838, capW: 246, yTitleY: 1757, deckStart: 4, toothT: 300,
    contours: contoursC, walls: wallPiecesC, lines: linesC, thick: thickC, vortices: vorticesC, rings: ringsC, blobs: blobsC, eyes: eyesC, lineWidth: 2.2},
  {letter: 'd', speed: '13.5 m/s', left: 1540.5, top: 1063, legendLeft: 1450, legendTop: 941, frame: [1403, 940, 2812, 1770],
    barLeft: 1760, titleLeft: 1492, capX: 2096, capY: 1838, capW: 342, yTitleY: 1757, deckStart: 7, toothT: 300,
    contours: contoursD, walls: wallPiecesD,
    lines: linesD.concat(streamZD.map(zs => zs.map((z, i) => [streamStationsD[i], z]))),
    thick: thickD, vortices: [], rings: vorticesD, blobs: blobsD, eyes: [], lineWidth: 2.6}
];

const plotW = 1108;
const plotH = 623;
const colorOf = t => bandColors[d3.bisectRight(tempEdges, t) - 1];

const svg = d3.select('body').append('svg')
  .attr('width', 2812)
  .attr('height', 1889)
  .style('display', 'block');

const defs = svg.append('defs');
defs.append('marker')
  .attr('id', 'arrow')
  .attr('viewBox', '0 0 10 10')
  .attr('refX', 5)
  .attr('refY', 5)
  .attr('markerUnits', 'userSpaceOnUse')
  .attr('markerWidth', 11)
  .attr('markerHeight', 11)
  .attr('orient', 'auto')
  .append('path')
  .attr('d', 'M0,1L10,5L0,9Z')
  .attr('fill', '#000');
defs.append('filter')
  .attr('id', 'soft')
  .attr('x', '-2%').attr('y', '-2%').attr('width', '104%').attr('height', '104%')
  .append('feGaussianBlur')
  .attr('stdDeviation', 1.4);
defs.append('filter')
  .attr('id', 'softText')
  .attr('x', '-5%').attr('y', '-5%').attr('width', '110%').attr('height', '110%')
  .append('feGaussianBlur')
  .attr('stdDeviation', 0.6);

panels.forEach(p => {
  const x = d3.scaleLinear().domain([-150, 295]).range([p.left, p.left + plotW]);
  const z = d3.scaleLinear().domain([0, 250]).range([p.top + plotH, p.top]);
  const root = svg.append('g').attr('class', `panel-${p.letter}`);

  // faint edge of the pasted figure
  root.append('path')
    .attr('d', `M${p.frame[0]},${p.frame[3]}V${p.frame[1]}H${p.frame[2]}`)
    .attr('fill', 'none')
    .attr('stroke', '#ececec')
    .attr('stroke-width', 2);

  drawLegend(root, p);

  const clipId = `clip-${p.letter}`;
  defs.append('clipPath').attr('id', clipId)
    .append('rect')
    .attr('x', p.left).attr('y', p.top)
    .attr('width', plotW).attr('height', plotH);

  const soft = root.append('g').attr('filter', 'url(#soft)');
  const plot = soft.append('g').attr('clip-path', `url(#${clipId})`);

  plot.append('rect')
    .attr('x', p.left).attr('y', p.top)
    .attr('width', plotW).attr('height', plotH)
    .attr('fill', '#0000f6');

  const area = d3.line().x(d => x(d[0])).y(d => z(d[1])).curve(d3.curveCatmullRom.alpha(0.5));
  const loop = d3.line().x(d => x(d[0])).y(d => z(d[1])).curve(d3.curveCatmullRomClosed.alpha(0.5));
  const rectOf = (sel, b, fill) => sel.append('rect')
    .attr('x', x(b[0])).attr('y', z(b[3]))
    .attr('width', x(b[2]) - x(b[0])).attr('height', z(b[1]) - z(b[3]))
    .attr('fill', fill);
  const ellipses = (sel, data, fill) => sel.append('g').selectAll('ellipse')
    .data(data)
    .join('ellipse')
    .attr('cx', d => x(d[0]))
    .attr('cy', d => z(d[1]))
    .attr('rx', d => x(d[0] + d[2]) - x(d[0]))
    .attr('ry', d => z(d[1]) - z(d[1] + d[3]))
    .attr('fill', fill);

  plot.append('g').selectAll('path')
    .data(p.contours)
    .join('path')
    .attr('d', d => area(d.pts) + 'Z')
    .attr('fill', d => colorOf(d.t));

  // underside of the deck: plain air, then the fan bays
  rectOf(plot, towerCover, '#0000f6');
  toothSpans.forEach(s => rectOf(plot, [s[0], s[2], s[1], 49], colorOf(p.toothT)));
  rectOf(plot, [p.deckStart, 47.5, 84, 50], colorOf(310));
  plot.append('g').selectAll('path')
    .data(p.walls)
    .join('path')
    .attr('d', d => area(d.pts) + 'Z')
    .attr('fill', d => colorOf(d.t));

  // streamlines
  const lines = plot.append('g').attr('fill', 'none').attr('stroke', '#000');
  lines.selectAll('path.thin')
    .data(p.lines)
    .join('path')
    .attr('class', 'thin')
    .attr('d', area)
    .attr('stroke-width', p.lineWidth)
    .attr('stroke-opacity', 0.8)
    .attr('marker-mid', 'url(#arrow)');
  lines.selectAll('path.thick')
    .data(p.thick)
    .join('path')
    .attr('class', 'thick')
    .attr('d', area)
    .attr('stroke-width', 3.8)
    .attr('marker-mid', 'url(#arrow)');
  lines.selectAll('path.vortex')
    .data(p.vortices)
    .join('path')
    .attr('class', 'vortex')
    .attr('d', d => loop(d) + 'Z')
    .attr('stroke-width', 5.5);
  lines.selectAll('path.ring')
    .data(p.rings)
    .join('path')
    .attr('class', 'ring')
    .attr('d', d => loop(d) + 'Z')
    .attr('stroke-width', 2.6);
  ellipses(plot, p.blobs, '#000');
  ellipses(plot, p.eyes, colorOf(302));

  buildings.forEach(b => rectOf(plot, b, '#fff'));
  plot.append('path')
    .attr('d', d3.line().x(d => x(d[0])).y(d => z(d[1]))([[p.deckStart, 50], [87.5, 50], [87.5, 45]]))
    .attr('fill', 'none')
    .attr('stroke', '#fff')
    .attr('stroke-width', 4);

  // axes
  const minor = soft.append('g')
    .attr('transform', `translate(0,${p.top + plotH})`)
    .call(d3.axisBottom(x).tickValues(yMinorTicks).tickSize(-8).tickFormat(''));
  minor.select('.domain').remove();
  minor.selectAll('line').attr('stroke', '#222').attr('stroke-width', 1.6);

  const major = root.append('g')
    .attr('transform', `translate(0,${p.top + plotH})`)
    .call(d3.axisBottom(x).tickValues(yTicks).tickSize(-17).tickSizeOuter(0).tickPadding(8));
  major.select('.domain').attr('stroke', '#111').attr('stroke-width', 4);
  major.selectAll('line').attr('stroke', '#111').attr('stroke-width', 2.2);
  major.selectAll('text')
    .attr('font-size', 31)
    .attr('font-family', '"Liberation Serif", serif')
    .attr('filter', 'url(#softText)');

  const left = root.append('g')
    .attr('transform', `translate(${p.left},0)`)
    .call(d3.axisLeft(z).tickValues(zTicks).tickSize(-12).tickPadding(14));
  left.select('.domain').remove();
  left.selectAll('line').attr('stroke', '#111').attr('stroke-opacity', 0.5).attr('stroke-width', 2);
  left.selectAll('text')
    .attr('font-size', 31)
    .attr('font-family', '"Liberation Serif", serif')
    .attr('filter', 'url(#softText)');
  // keep the zero clear of the -150 under it
  left.selectAll('.tick').filter(d => d === 0).select('text').attr('dx', -19);

  // axis titles
  root.append('text')
    .attr('x', x(71))
    .attr('y', p.yTitleY)
    .attr('text-anchor', 'middle')
    .attr('font-size', 38)
    .attr('font-weight', 'bold')
    .attr('font-style', 'italic')
    .attr('textLength', 95)
    .attr('lengthAdjust', 'spacingAndGlyphs')
    .attr('filter', 'url(#softText)')
    .text('y(m)');
  root.append('text')
    .attr('transform', `translate(${p.left - 80},${p.top + plotH / 2}) rotate(-90)`)
    .attr('text-anchor', 'middle')
    .attr('font-size', 44)
    .attr('font-weight', 'bold')
    .attr('font-style', 'italic')
    .attr('textLength', 90)
    .attr('lengthAdjust', 'spacingAndGlyphs')
    .attr('filter', 'url(#softText)')
    .text('z(m)');

  // caption
  const cap = root.append('text')
    .attr('x', p.capX)
    .attr('y', p.capY)
    .attr('text-anchor', 'middle')
    .attr('font-size', 64)
    .attr('textLength', p.capW)
    .attr('lengthAdjust', 'spacingAndGlyphs')
    .attr('filter', 'url(#softText)');
  cap.append('tspan').text('(');
  cap.append('tspan').attr('font-weight', 'bold').text(p.letter);
  cap.append('tspan').text(`) ${p.speed}`);
});

function drawLegend(root, p) {
  const legendW = 1241;
  const legendH = 112;
  const g = root.append('g').attr('filter', 'url(#softText)');
  g.append('rect')
    .attr('x', p.legendLeft).attr('y', p.legendTop)
    .attr('width', legendW).attr('height', legendH)
    .attr('fill', '#fff')
    .attr('stroke', '#888')
    .attr('stroke-width', 2.2);

  const t = d3.scaleLinear()
    .domain([300, 328])
    .range([p.barLeft + 32, p.barLeft + 867]);
  const barTop = p.legendTop + 9;
  const barH = 49;
  g.selectAll('rect.band')
    .data(bandColors)
    .join('rect')
    .attr('class', 'band')
    .attr('x', (d, i) => t(tempEdges[i]))
    .attr('y', barTop)
    .attr('width', (d, i) => t(tempEdges[i + 1]) - t(tempEdges[i]))
    .attr('height', barH)
    .attr('fill', d => d);
  g.selectAll('line.edge')
    .data(tempTicks)
    .join('line')
    .attr('class', 'edge')
    .attr('x1', d => t(d)).attr('x2', d => t(d))
    .attr('y1', barTop).attr('y2', barTop + barH)
    .attr('stroke', '#223')
    .attr('stroke-width', 1.2);
  g.selectAll('text.tick')
    .data(tempTicks)
    .join('text')
    .attr('class', 'tick')
    .attr('x', d => t(d))
    .attr('y', p.legendTop + 103)
    .attr('text-anchor', 'middle')
    .attr('font-size', 32)
    .text(d => d);
  g.append('text')
    .attr('x', p.titleLeft)
    .attr('y', p.legendTop + 100)
    .attr('font-size', 33)
    .attr('textLength', 248)
    .attr('lengthAdjust', 'spacingAndGlyphs')
    .text('Temperature(K):');
}
</script>
</body>
</html>
